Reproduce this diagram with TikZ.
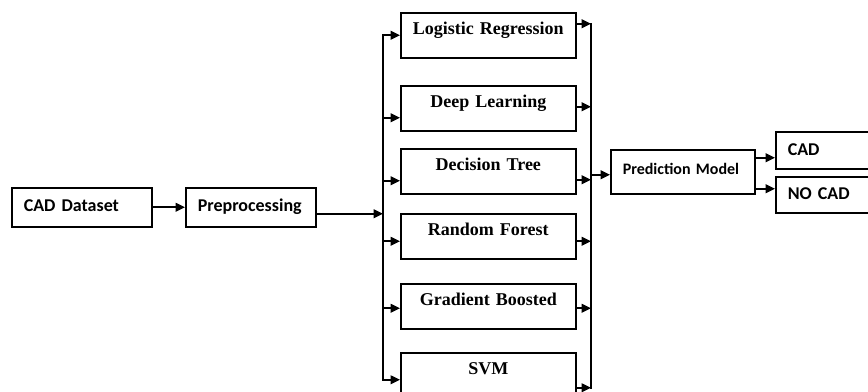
\documentclass[tikz,border=0pt]{standalone}
\usepackage{fontspec}
\setmainfont{Liberation Serif}
\newfontfamily\carlito{Carlito}
\usetikzlibrary{arrows.meta}
\usetikzlibrary{calc}

\tikzset{
  sansbox/.style={draw, line width=1.2pt, anchor=north west, inner xsep=9pt, inner ysep=0pt,
    align=left, text height=18pt, font={\carlito\bfseries\fontsize{13.5}{16}\selectfont}},
  algobox/.style={draw, line width=1.2pt, anchor=north west, inner sep=0pt, align=center,
    text width=131.25pt, text height=16.5pt, text depth=17.25pt,
    font={\bfseries\fontsize{13.5}{16}\selectfont}},
  flow/.style={line width=1.3pt, -{Triangle[length=7pt,width=6.5pt]}},
  wire/.style={line width=1.3pt, line cap=rect},
}

\begin{document}
\begin{tikzpicture}[x=0.75pt,y=0.75pt,yscale=-1,xscale=1]
\useasboundingbox (0,0) rectangle (868,392);
\clip (0,0) rectangle (868,392);

% input side
\node[sansbox, text width=87pt, text depth=11.25pt] (data) at (11,187) {CAD Dataset};
\node[sansbox, text width=79.5pt, text depth=11.25pt] (prep) at (185,187) {Preprocessing};

% classifiers
\node[algobox] (lr) at (400,12) {Logistic Regression};
\node[algobox] (dl) at (400,85) {Deep Learning};
\node[algobox] (dt) at (400,148) {Decision Tree};
\node[algobox] (rf) at (400,213) {Random Forest};
\node[algobox] (gb) at (400,283) {Gradient Boosted};
\node[algobox] (svm) at (400,352) {SVM};

% output side
\node[sansbox, text width=90pt, text height=18.2pt, text depth=14.8pt,
  font={\carlito\bfseries\fontsize{12}{14}\selectfont}] (pm) at (610,149) {Prediction Model};
\node[sansbox, text width=68.25pt, text depth=9.75pt] (cad) at (775,131) {CAD};
\node[sansbox, text width=68.25pt, text height=16.75pt, text depth=10.25pt] (nocad) at (775,176) {NO CAD};

% buses
\coordinate (lbus) at (383,0);
\coordinate (rbus) at (591,0);

\foreach \b/\d in {lr/0,dl/9.5,dt/9.5,rf/5,gb/2,svm/4.5}
  \path ($(\b.west)+(0,\d)$) coordinate (in-\b);
\foreach \b/\d in {lr/-11.5,dl/-1.5,dt/8.5,rf/5,gb/2,svm/12.5}
  \path ($(\b.east)+(0,\d)$) coordinate (out-\b);
\path ($(prep.east)+(0,6.5)$) coordinate (feed);
\path ($(pm.west)+(0,3)$) coordinate (in-pm);
\path ($(pm.east)+(0,-14)$) coordinate (to-cad);
\path ($(pm.east)+(0,17)$) coordinate (to-nocad);

\draw[flow] (data) -- (prep);
\draw[flow] (feed) -- (feed -| lbus);

\draw[wire] (in-lr -| lbus) -- (in-svm -| lbus);
\draw[wire] (out-lr -| rbus) -- (out-svm -| rbus);
\foreach \b in {lr,dl,dt,rf,gb,svm} {
  \draw[flow] (in-\b -| lbus) -- (in-\b);
  \draw[flow] (out-\b) -- (out-\b -| rbus);
}

\draw[flow] (in-pm -| rbus) -- (in-pm);
\draw[flow] (to-cad) -- (to-cad -| cad.west);
\draw[flow] (to-nocad) -- (to-nocad -| nocad.west);

\end{tikzpicture}
\end{document}
